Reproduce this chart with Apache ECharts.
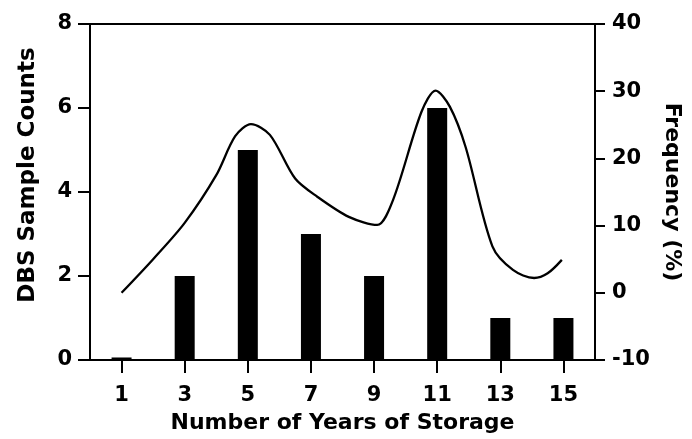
<!DOCTYPE html>
<html><head><meta charset="utf-8">
<script src="https://cdn.jsdelivr.net/npm/echarts@6/dist/echarts.min.js"></script>
<style>html,body{margin:0;padding:0;background:#fff}#c{width:692px;height:439px}</style>
</head><body><div id="c"></div>
<script>
const years = [1, 3, 5, 7, 9, 11, 13, 15];
const counts = [0.06, 2, 5, 3, 2, 6, 1, 1];
const freqX = [1, 2, 3, 4, 4.6, 5.1, 5.7, 6.5, 7.2, 8.2, 9.1, 9.6, 10.5, 10.95, 11.4, 11.9, 12.75, 13.4, 14.07, 14.5, 14.95];
const freqY = [0, 5, 10.4, 17.5, 23.3, 25.1, 23.5, 17, 14.3, 11.3, 10.1, 13.8, 26.9, 30.1, 27.7, 21.7, 6.9, 3.4, 2.2, 2.9, 4.9];
const leftTicks = [0, 2, 4, 6, 8];
const rightTicks = [-10, 0, 10, 20, 30, 40];

const font = 'DejaVu Sans';
const lineStyle = {color: '#000', width: 2};
const chart = echarts.init(document.getElementById('c'));
chart.setOption({
  animation: false,
  grid: {left: 90, right: 97, top: 24, bottom: 79},
  xAxis: [{
    type: 'value', min: 0, max: 16,
    name: 'Number of Years of Storage', nameLocation: 'middle', nameGap: 52,
    nameTextStyle: {fontFamily: font, fontWeight: 'bold', fontSize: 22, color: '#000'},
    axisLine: {show: true, onZero: false, lineStyle: lineStyle},
    axisTick: {show: true, length: 13, lineStyle: lineStyle, customValues: years},
    axisLabel: {fontFamily: font, fontWeight: 'bold', fontSize: 21, color: '#000', margin: 25, customValues: years},
    splitLine: {show: false}
  }, {
    type: 'value', min: 0, max: 16, position: 'top',
    axisLine: {show: true, onZero: false, lineStyle: lineStyle},
    axisTick: {show: false}, axisLabel: {show: false}, splitLine: {show: false}
  }],
  yAxis: [{
    type: 'value', min: leftTicks[0], max: leftTicks[leftTicks.length - 1], interval: 2,
    name: 'DBS Sample Counts', nameLocation: 'middle', nameGap: 50,
    nameTextStyle: {fontFamily: font, fontWeight: 'bold', fontSize: 23, color: '#000', padding: [0, 0, 0, 34]},
    axisLine: {show: true, onZero: false, lineStyle: lineStyle},
    axisTick: {show: true, length: 12, lineStyle: lineStyle},
    axisLabel: {fontFamily: font, fontWeight: 'bold', fontSize: 21, color: '#000', margin: 18},
    splitLine: {show: false}
  }, {
    type: 'value', position: 'right', min: rightTicks[0], max: rightTicks[rightTicks.length - 1], interval: 10,
    name: 'Frequency (%)', nameLocation: 'middle', nameGap: 64, nameRotate: -90,
    nameTextStyle: {fontFamily: font, fontWeight: 'bold', fontSize: 22, color: '#000'},
    axisLine: {show: true, onZero: false, lineStyle: lineStyle},
    axisTick: {show: true, length: 10, lineStyle: lineStyle},
    axisLabel: {fontFamily: font, fontWeight: 'bold', fontSize: 21, color: '#000', margin: 17},
    splitLine: {show: false}
  }],
  series: [{
    type: 'bar', xAxisIndex: 0, yAxisIndex: 0, barWidth: 20,
    itemStyle: {color: '#000'},
    data: years.map((y, i) => [y, counts[i]])
  }, {
    type: 'line', xAxisIndex: 0, yAxisIndex: 1, smooth: 0.3, symbol: 'none',
    lineStyle: {color: '#000', width: 2.3},
    data: freqX.map((x, i) => [x, freqY[i]])
  }]
});
</script></body></html>
